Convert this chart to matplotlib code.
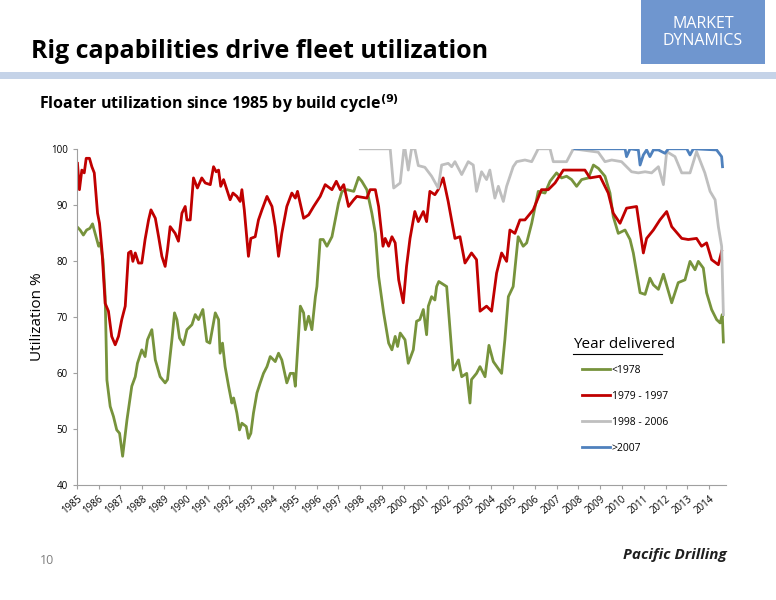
import matplotlib.pyplot as plt
from matplotlib.lines import Line2D
from matplotlib.patches import Rectangle

# <1978 build cycle
old_t = [1985.03, 1985.15, 1985.3, 1985.45, 1985.6, 1985.72, 1985.84, 1985.92, 1986.0, 1986.08,
         1986.2, 1986.3, 1986.38, 1986.53, 1986.68, 1986.83, 1986.96, 1987.1, 1987.3, 1987.52,
         1987.68, 1987.78, 1987.98, 1988.13, 1988.24, 1988.44, 1988.6, 1988.82, 1989.05, 1989.16,
         1989.36, 1989.48, 1989.59, 1989.71, 1989.89, 1990.05, 1990.28, 1990.43, 1990.58, 1990.78,
         1990.96, 1991.1, 1991.24, 1991.35, 1991.5, 1991.57, 1991.68, 1991.8, 1991.96, 1992.11,
         1992.19, 1992.34, 1992.46, 1992.57, 1992.77, 1992.87, 1992.98, 1993.1, 1993.26, 1993.41,
         1993.56, 1993.72, 1993.87, 1994.1, 1994.25, 1994.4, 1994.63, 1994.79, 1994.94, 1995.02,
         1995.17, 1995.25, 1995.4, 1995.48, 1995.63, 1995.78, 1995.94, 1996.01, 1996.16, 1996.3,
         1996.47, 1996.7, 1996.85, 1997.0, 1997.16, 1997.39, 1997.7, 1997.92, 1998.07, 1998.3,
         1998.53, 1998.69, 1998.84, 1999.07, 1999.3, 1999.45, 1999.6, 1999.71, 1999.83, 2000.05,
         2000.2, 2000.43, 2000.58, 2000.73, 2000.89, 2001.04, 2001.12, 2001.27, 2001.42, 2001.5,
         2001.6, 2001.96, 2002.26, 2002.5, 2002.65, 2002.88, 2003.03, 2003.1, 2003.33, 2003.49,
         2003.72, 2003.9, 2004.1, 2004.48, 2004.63, 2004.79, 2005.01, 2005.24, 2005.47, 2005.63,
         2005.86, 2006.16, 2006.47, 2006.7, 2007.0, 2007.23, 2007.46, 2007.69, 2007.92, 2008.15,
         2008.46, 2008.69, 2008.92, 2009.22, 2009.45, 2009.6, 2009.83, 2010.14, 2010.37, 2010.52,
         2010.83, 2011.06, 2011.28, 2011.44, 2011.67, 2011.9, 2012.28, 2012.58, 2012.89, 2013.12,
         2013.35, 2013.5, 2013.73, 2013.88, 2014.11, 2014.34, 2014.5, 2014.6, 2014.65]
old_v = [86.0, 85.5, 84.6, 85.5, 85.8, 86.6, 84.9, 83.8, 82.6, 83.2,
         80.2, 73.6, 58.7, 54.0, 52.2, 49.8, 49.2, 45.1, 51.6, 57.6,
         59.3, 61.7, 64.1, 62.9, 65.9, 67.7, 62.3, 59.3, 58.2, 58.8,
         65.9, 70.7, 69.5, 66.2, 65.0, 67.7, 68.6, 70.4, 69.5, 71.3,
         65.6, 65.3, 68.3, 70.7, 69.5, 63.5, 65.3, 61.1, 57.6, 54.6,
         55.5, 52.8, 49.8, 51.0, 50.4, 48.3, 49.2, 52.8, 56.4, 58.2,
         59.9, 61.1, 62.9, 62.0, 63.5, 62.3, 58.2, 59.9, 59.9, 57.6,
         67.1, 71.9, 70.7, 67.7, 70.1, 67.7, 73.6, 75.4, 83.8, 83.8,
         82.6, 84.3, 87.3, 90.3, 92.4, 92.7, 92.4, 94.9, 94.2, 92.7,
         88.5, 84.9, 77.2, 70.7, 65.3, 64.1, 66.5, 64.7, 67.1, 65.9,
         61.7, 64.1, 69.2, 69.5, 71.3, 66.8, 71.9, 73.6, 73.0, 75.4,
         76.3, 75.4, 60.5, 62.3, 59.3, 59.9, 54.6, 58.8, 59.9, 61.1,
         59.3, 64.9, 62.0, 59.9, 65.9, 73.6, 75.4, 84.3, 82.6, 83.2,
         86.7, 92.4, 92.1, 94.2, 95.7, 94.8, 95.1, 94.5, 93.3, 94.5,
         94.8, 97.1, 96.5, 95.1, 92.1, 87.9, 84.9, 85.5, 83.8, 81.4,
         74.3, 74.0, 76.9, 75.7, 74.9, 77.6, 72.5, 76.1, 76.6, 79.9,
         78.4, 79.9, 78.7, 74.3, 71.3, 69.5, 68.9, 70.4, 65.5]

# 1979 - 1997 build cycle
mid_t = [1985.03, 1985.12, 1985.23, 1985.34, 1985.43, 1985.58, 1985.69, 1985.8, 1985.95, 1986.04,
         1986.15, 1986.3, 1986.45, 1986.6, 1986.76, 1986.91, 1987.06, 1987.22, 1987.37, 1987.48,
         1987.57, 1987.68, 1987.83, 1987.98, 1988.13, 1988.29, 1988.4, 1988.6, 1988.75, 1988.9,
         1989.05, 1989.16, 1989.28, 1989.51, 1989.66, 1989.82, 1989.97, 1990.05, 1990.2, 1990.35,
         1990.53, 1990.73, 1990.89, 1991.12, 1991.27, 1991.39, 1991.5, 1991.6, 1991.73, 1991.88,
         1992.03, 1992.16, 1992.34, 1992.49, 1992.57, 1992.68, 1992.87, 1992.98, 1993.18, 1993.33,
         1993.49, 1993.72, 1993.95, 1994.1, 1994.25, 1994.4, 1994.63, 1994.86, 1995.02, 1995.12,
         1995.4, 1995.63, 1995.86, 1996.16, 1996.39, 1996.7, 1996.9, 1997.08, 1997.24, 1997.46,
         1997.7, 1997.84, 1998.3, 1998.45, 1998.69, 1998.84, 1999.04, 1999.14, 1999.3, 1999.45,
         1999.6, 1999.76, 1999.97, 2000.12, 2000.28, 2000.5, 2000.66, 2000.89, 2001.04, 2001.19,
         2001.42, 2001.57, 2001.8, 2002.03, 2002.34, 2002.57, 2002.8, 2003.1, 2003.33, 2003.49,
         2003.79, 2004.02, 2004.25, 2004.48, 2004.71, 2004.86, 2005.09, 2005.32, 2005.55, 2005.93,
         2006.31, 2006.62, 2006.93, 2007.31, 2008.3, 2008.53, 2008.99, 2009.37, 2009.6, 2009.91,
         2010.21, 2010.67, 2010.98, 2011.13, 2011.44, 2011.74, 2012.05, 2012.28, 2012.74, 2013.04,
         2013.42, 2013.65, 2013.88, 2014.11, 2014.42, 2014.57]
mid_v = [97.4, 92.7, 96.2, 95.7, 98.3, 98.3, 96.8, 95.7, 88.5, 86.7,
         82.0, 72.4, 71.0, 66.5, 65.0, 66.5, 69.5, 71.9, 81.4, 81.7,
         79.9, 81.4, 79.6, 79.6, 83.8, 87.3, 89.1, 87.6, 84.3, 80.8,
         79.0, 82.0, 86.1, 84.9, 83.5, 88.5, 89.7, 87.3, 87.3, 94.8,
         93.0, 94.8, 93.9, 93.6, 96.8, 95.9, 96.2, 93.3, 94.5, 92.7,
         90.9, 92.1, 91.5, 90.6, 92.7, 89.1, 80.8, 84.0, 84.3, 87.3,
         89.1, 91.5, 89.7, 86.1, 80.8, 84.9, 89.7, 92.1, 91.2, 92.4,
         87.6, 88.2, 89.7, 91.5, 93.6, 92.7, 94.2, 92.7, 93.6, 89.7,
         90.9, 91.5, 91.2, 92.7, 92.7, 89.7, 82.6, 84.0, 82.6, 84.3,
         83.2, 76.6, 72.5, 79.0, 84.0, 88.8, 87.0, 88.8, 87.0, 92.4,
         91.8, 92.7, 94.8, 90.6, 84.0, 84.3, 79.6, 81.4, 80.2, 71.0,
         71.9, 71.0, 77.8, 81.4, 79.9, 85.5, 84.9, 87.3, 87.3, 89.1,
         92.7, 92.7, 93.9, 96.2, 96.2, 94.8, 95.1, 92.1, 88.5, 86.7,
         89.4, 89.7, 81.4, 84.0, 85.5, 87.3, 88.8, 86.1, 84.0, 83.8,
         84.0, 82.6, 83.2, 80.2, 79.3, 81.7]

# 1998 - 2006 build cycle
new_t = [1998.0, 1999.37, 1999.53, 1999.83, 2000.0, 2000.05, 2000.2, 2000.35, 2000.5, 2000.66,
         2000.96, 2001.27, 2001.57, 2001.73, 2002.03, 2002.19, 2002.34, 2002.65, 2002.95, 2003.18,
         2003.33, 2003.56, 2003.79, 2003.94, 2004.17, 2004.33, 2004.56, 2004.71, 2005.01, 2005.17,
         2005.55, 2005.86, 2006.16, 2006.7, 2006.85, 2007.46, 2007.77, 2008.91, 2009.22, 2009.53,
         2009.98, 2010.44, 2010.75, 2011.06, 2011.36, 2011.67, 2011.9, 2012.05, 2012.43, 2012.74,
         2013.12, 2013.42, 2013.8, 2014.04, 2014.27, 2014.42, 2014.57, 2014.65]
new_v = [100, 100, 93.0, 93.9, 100, 100, 96.2, 100, 100, 97.0,
         96.7, 95.1, 93.0, 97.1, 97.4, 96.8, 97.7, 95.4, 97.7, 97.1,
         92.4, 95.9, 94.5, 96.2, 91.2, 93.3, 90.6, 93.3, 96.8, 97.7,
         98.0, 97.7, 100, 100, 97.7, 97.7, 100, 99.4, 97.7, 98.0,
         97.7, 95.9, 95.7, 95.9, 95.7, 96.8, 93.6, 99.5, 98.6, 95.7,
         95.7, 99.5, 95.7, 92.4, 90.9, 86.1, 82.6, 70.4]

# >2007 build cycle
ult_t = [2007.84, 2010.14, 2010.21, 2010.37, 2010.75, 2010.83, 2010.98, 2011.13, 2011.28, 2011.44,
         2011.67, 2011.97, 2012.13, 2012.97, 2013.12, 2013.27, 2014.34, 2014.57, 2014.61]
ult_v = [100, 100, 98.6, 100, 99.8, 97.1, 98.9, 99.8, 98.6, 99.8,
         99.8, 99.2, 100, 100, 98.9, 100, 99.8, 98.6, 96.8]

years = list(range(1985, 2015))
series = [(old_t, old_v, '#77933C', '<1978'),
          (mid_t, mid_v, '#C00000', '1979 - 1997'),
          (new_t, new_v, '#BFBFBF', '1998 - 2006'),
          (ult_t, ult_v, '#4F81BD', '>2007')]

plt.rcParams['font.family'] = ['Open Sans', 'DejaVu Sans']
fig = plt.figure(figsize=(7.76, 6), dpi=100)

# header
fig.text(0.04, 0.915, 'Rig capabilities drive fleet utilization', fontsize=18,
         fontweight='bold', va='center')
fig.add_artist(Rectangle((0, 0.868), 1, 0.012, transform=fig.transFigure,
                         color='#C5D3E8', lw=0))
fig.add_artist(Rectangle((0.826, 0.893), 0.16, 0.107, transform=fig.transFigure,
                         color='#6F96CF', lw=0))
fig.text(0.906, 0.946, 'MARKET\nDYNAMICS', color='white', fontsize=11.5,
         ha='center', va='center', linespacing=1.1)
fig.text(0.05, 0.827, 'Floater utilization since 1985 by build cycle$^{\\mathbf{(9)}}$',
         fontsize=11.5, fontweight='bold', va='center')
fig.text(0.052, 0.065, '10', fontsize=9, color='#7F7F7F', va='center')
fig.text(0.87, 0.075, 'Pacific Drilling', fontsize=11, fontweight='bold',
         style='italic', ha='center', va='center', color='#1F1F1F')

ax = fig.add_axes([0.099, 0.192, 0.836, 0.56])
for t, v, c, lab in series:
    ax.plot(t, v, color=c, lw=2, label=lab)

ax.set_xlim(1985, 2014.75)
ax.set_ylim(40, 100)
ax.set_yticks(range(40, 101, 10))
ax.set_xticks(years)
ax.set_xticklabels([str(y) for y in years], rotation=40, ha='right',
                   rotation_mode='anchor')
ax.tick_params(axis='both', labelsize=7, length=3, color='#A0A0A0')
ax.set_ylabel('Utilization %', fontsize=11)
for s in ['top', 'right']:
    ax.spines[s].set_visible(False)
for s in ['left', 'bottom']:
    ax.spines[s].set_color('#A0A0A0')

leg = ax.legend(loc='upper left', bbox_to_anchor=(0.765, 0.385), frameon=False,
                fontsize=7.5, handlelength=2.6, labelspacing=1.45,
                handletextpad=0.2)
fig.text(0.738, 0.425, 'Year delivered', fontsize=11, va='center')
fig.add_artist(Line2D([0.738, 0.853], [0.41, 0.41], transform=fig.transFigure,
                      color='black', lw=0.8))

fig.savefig('out.png', dpi=100)
